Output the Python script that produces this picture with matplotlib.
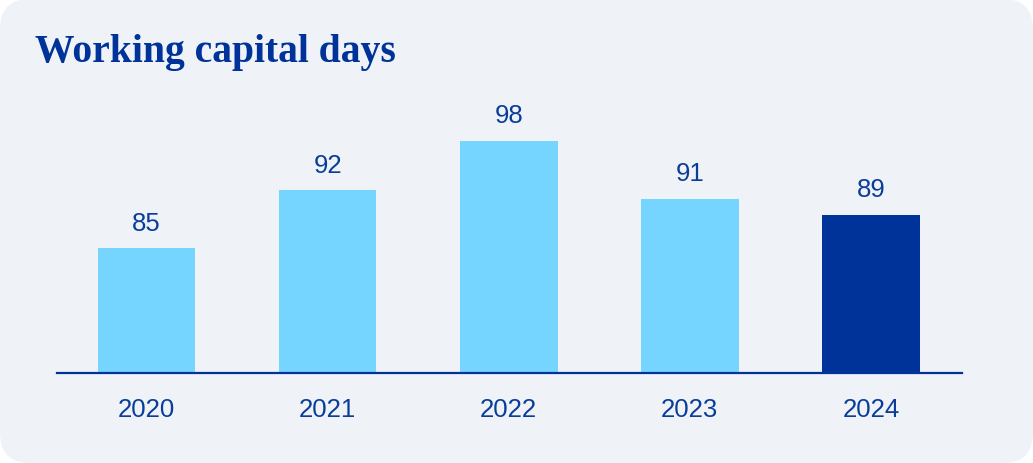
import matplotlib.pyplot as plt
from matplotlib.patches import FancyBboxPatch

years = ['2020', '2021', '2022', '2023', '2024']
days = [85, 92, 98, 91, 89]
bar_colors = ['#75D5FF', '#75D5FF', '#75D5FF', '#75D5FF', '#003399']

dark_blue = '#003399'
text_blue = '#0A3D99'
panel = '#EFF3F7'

fig = plt.figure(figsize=(10.33, 4.64), dpi=100)
fig.patch.set_facecolor('white')

# rounded panel behind everything
bg = FancyBboxPatch((0.0, 0.0), 1033, 464,
                    boxstyle='round,pad=0,rounding_size=30',
                    transform=None, facecolor=panel, edgecolor='none', zorder=-5)
fig.patches.append(bg)

fig.text(35 / 1033, 1 - 62 / 464, 'Working capital days', fontsize=28.5,
         family='Liberation Serif', weight='bold', color=dark_blue,
         va='baseline', ha='left')

ax = fig.add_axes([57 / 1033, 90 / 464, 905 / 1033, 332 / 464])
ax.set_facecolor('none')
x = range(len(years))
bars = ax.bar(x, days, width=0.54, bottom=0, color=bar_colors, zorder=2)
ax.set_xlim(-0.494, 4.503)
ax.set_ylim(70, 110)

for xi, v in zip(x, days):
    ax.annotate(str(v), (xi, v), xytext=(0, 10), textcoords='offset points',
                ha='center', va='bottom', fontsize=18.5,
                family='Liberation Sans', color=text_blue)

ax.set_xticks(list(x))
ax.set_xticklabels(years, fontsize=18.5, family='Liberation Sans', color=text_blue)
ax.tick_params(axis='x', length=0, pad=17)
ax.set_yticks([])
for s in ['top', 'right', 'left']:
    ax.spines[s].set_visible(False)
ax.spines['bottom'].set_color(dark_blue)
ax.spines['bottom'].set_linewidth(1.6)
ax.spines['bottom'].set_zorder(3)

fig.savefig('out.png', dpi=100, facecolor=fig.get_facecolor())
